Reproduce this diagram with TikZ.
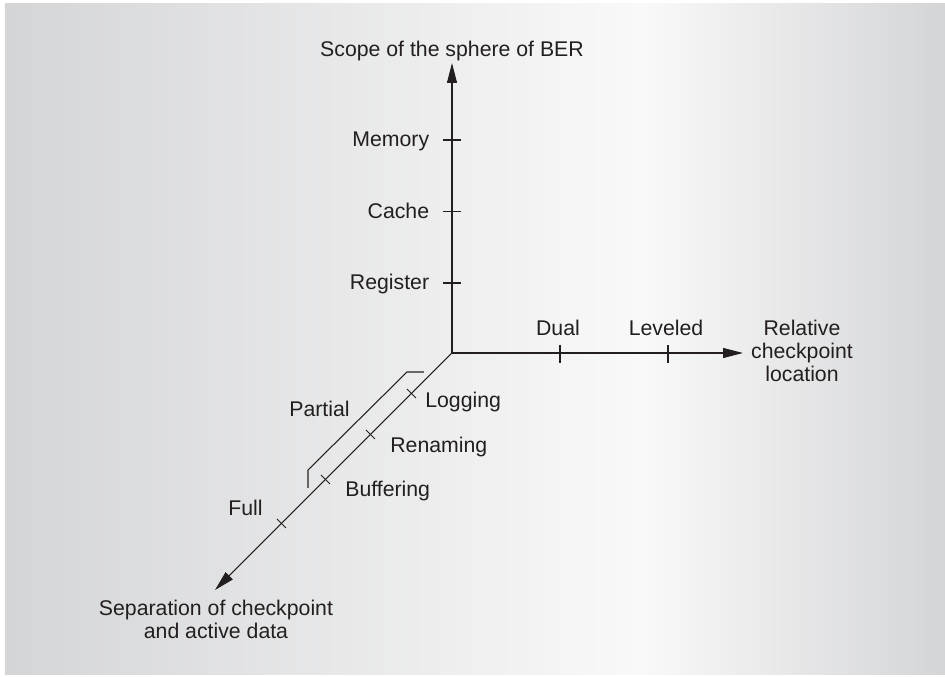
\documentclass[tikz,border=0pt]{standalone}
\usepackage{fontspec}
\setmainfont{Liberation Sans}
\usepackage{tikz}
\usetikzlibrary{arrows.meta,positioning}
\definecolor{BgEdge}{HTML}{D4D5D7}
\definecolor{BgMid}{HTML}{F9F9F9}
\definecolor{InkDark}{HTML}{231F20}

\begin{document}
\begin{tikzpicture}[
    axis/.style={draw=InkDark, line width=0.6pt, -{Triangle[length=4mm,width=2mm]}},
    tickmark/.style={draw=InkDark, line width=0.6pt},
    bracket/.style={draw=InkDark, line width=0.6pt},
    lbl/.style={font=\fontsize{12.1}{13.1}\selectfont, text=InkDark, inner sep=0pt, align=center}
  ]
    \useasboundingbox (-9.04,-6.48) rectangle (9.86,7.06);
    % background panel
    \fill[left color=BgEdge, right color=BgMid] (-8.94,-6.44) rectangle (3.76,6.98);
    \fill[left color=BgMid, right color=BgEdge] (3.76,-6.44) rectangle (9.86,6.98);

    \coordinate (O) at (0,0);
    \coordinate (ytip) at (0,5.8);
    \coordinate (xtip) at (5.82,0);
    \coordinate (ztip) at (-4.74,-4.74);

    % axes
    \draw[axis] (O) -- (ytip);
    \draw[axis] (O) -- (xtip);
    \draw[axis] (O) -- (ztip);

    \node[lbl, anchor=base] (scope) at (0,5.92) {Scope of the sphere of BER};
    \node[lbl, anchor=base] (reloc) at (7.0,-0.58) {Relative\\checkpoint\\location};
    \node[lbl, anchor=base] (sep) at (-4.72,-5.72) {Separation of checkpoint\\and active data};

    % vertical ticks
    \foreach \y/\name in {4.26/Memory, 2.83/Cache, 1.40/Register} {
      \draw[tickmark] (-0.18,\y) -- (0.18,\y);
      \node[lbl, anchor=base east] (\name) at (-0.45,\y-0.14) {\name};
    }

    % horizontal ticks
    \foreach \x/\dx/\name in {2.16/-0.04/Dual, 4.32/-0.04/Leveled} {
      \draw[tickmark] (\x,0.16) -- (\x,-0.2);
      \node[lbl, anchor=base] (\name) at (\x+\dx,0.34) {\name};
    }

    % diagonal ticks
    \foreach \d in {0.81, 1.63, 2.53, 3.41} {
      \draw[tickmark] (-\d-0.09,-\d+0.09) -- (-\d+0.09,-\d-0.09);
    }
    \node[lbl, anchor=base west] (logging) at (-0.54,-1.10) {Logging};
    \node[lbl, anchor=base west] (renaming) at (-1.24,-2.00) {Renaming};
    \node[lbl, anchor=base west] (buffering) at (-2.14,-2.88) {Buffering};
    \node[lbl, anchor=base west] (partial) at (-3.26,-1.28) {Partial};
    \node[lbl, anchor=base west] (full) at (-4.48,-3.26) {Full};

    % partial bracket
    \coordinate (b1) at (-0.56,-0.38);
    \coordinate (b2) at (-0.90,-0.38);
    \coordinate (b3) at (-2.88,-2.34);
    \coordinate (b4) at (-2.88,-2.70);
    \draw[bracket] (b1) -- (b2) -- (b3) -- (b4);
  \end{tikzpicture}
\end{document}
